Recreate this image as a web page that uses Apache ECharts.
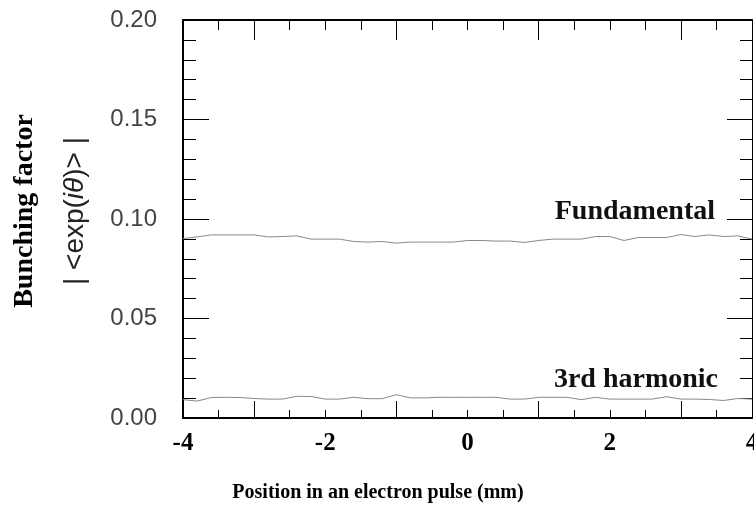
<!DOCTYPE html>
<html>
<head>
<meta charset="utf-8">
<script src="https://cdn.jsdelivr.net/npm/echarts@6/dist/echarts.min.js"></script>
<style>html,body{margin:0;padding:0;background:#fff}#c{width:754px;height:510px}</style>
</head>
<body>
<div id="c"></div>
<script>
// ---- data ----
const positions = [-4.0,-3.8,-3.6,-3.4,-3.2,-3.0,-2.8,-2.6,-2.4,-2.2,-2.0,-1.8,-1.6,-1.4,-1.2,-1.0,-0.8,-0.6,-0.4,-0.2,0.0,0.2,0.4,0.6,0.8,1.0,1.2,1.4,1.6,1.8,2.0,2.2,2.4,2.6,2.8,3.0,3.2,3.4,3.6,3.8,4.0];
const fundamental = [0.0902,0.0910,0.0920,0.0920,0.0920,0.0920,0.0910,0.0912,0.0915,0.0899,0.0899,0.0899,0.0887,0.0884,0.0887,0.0879,0.0884,0.0884,0.0884,0.0884,0.0892,0.0892,0.0889,0.0889,0.0882,0.0892,0.0899,0.0899,0.0899,0.0912,0.0912,0.0892,0.0907,0.0907,0.0907,0.0922,0.0912,0.0920,0.0912,0.0915,0.0899];
const harmonic3 = [0.0092,0.0085,0.0103,0.0104,0.0103,0.0098,0.0095,0.0095,0.0109,0.0108,0.0095,0.0095,0.0104,0.0097,0.0097,0.0117,0.0101,0.0101,0.0104,0.0104,0.0104,0.0104,0.0104,0.0095,0.0095,0.0104,0.0104,0.0104,0.0092,0.0104,0.0095,0.0095,0.0095,0.0095,0.0107,0.0095,0.0095,0.0093,0.0088,0.0098,0.0095];
const seriesNames = ['Fundamental', '3rd harmonic'];
const xTickLabels = [-4, -2, 0, 2, 4];
const xMinorTicks = [-3.5,-2.5,-2,-1.5,-0.5,0,0.5,1.5,2,2.5,3.5];
const xMajorTicks = [-3, -1, 1, 3];
const xTitle = 'Position in an electron pulse (mm)';
const yTitle1 = 'Bunching factor';

// ---- chart ----
const serif = '"Liberation Serif", "Times New Roman", serif';
const sans = '"Liberation Sans", Arial, sans-serif';
const chart = echarts.init(document.getElementById('c'), null, {renderer: 'canvas'});
const zip = (xs, ys) => xs.map((x, i) => [x, ys[i]]);
const xBase = {type: 'value', min: -4, max: 4, gridIndex: 0, splitLine: {show: false}};
const opt = {
  animation: false,
  backgroundColor: '#fff',
  grid: {left: 183, top: 20, right: 2, bottom: 92, containLabel: false, outerBoundsMode: 'none'},
  xAxis: [
    Object.assign({}, xBase, {
      position: 'bottom', interval: 0.5,
      axisLine: {show: true, onZero: false, lineStyle: {color: '#000', width: 2}},
      axisTick: {show: true, inside: true, length: 8, customValues: xMinorTicks, lineStyle: {color: '#000', width: 1}},
      axisLabel: {show: true, customValues: xTickLabels, margin: 13, color: '#000', fontFamily: serif, fontWeight: 'bold', fontSize: 25, formatter: v => String(v)},
      name: xTitle, nameLocation: 'middle', nameGap: 65,
      nameTextStyle: {fontFamily: serif, fontWeight: 'bold', fontSize: 20, color: '#000', padding: [0, 179, 0, 0]}
    }),
    Object.assign({}, xBase, {
      position: 'bottom', interval: 1,
      axisLine: {show: false, onZero: false},
      axisTick: {show: true, inside: true, length: 17, customValues: xMajorTicks, lineStyle: {color: '#000', width: 1}},
      axisLabel: {show: false}
    }),
    Object.assign({}, xBase, {
      position: 'top', interval: 0.5,
      axisLine: {show: true, onZero: false, lineStyle: {color: '#000', width: 2}},
      axisTick: {show: true, inside: true, length: 10, customValues: xMinorTicks, lineStyle: {color: '#000', width: 1}},
      axisLabel: {show: false}
    }),
    Object.assign({}, xBase, {
      position: 'top', interval: 1,
      axisLine: {show: false, onZero: false},
      axisTick: {show: true, inside: true, length: 20, customValues: xMajorTicks, lineStyle: {color: '#000', width: 1}},
      axisLabel: {show: false}
    })
  ],
  yAxis: [
    {
      type: 'value', min: 0, max: 0.2, interval: 0.05, position: 'left',
      splitLine: {show: false},
      axisLine: {show: true, onZero: false, lineStyle: {color: '#000', width: 2}},
      axisTick: {show: true, inside: true, length: 26, lineStyle: {color: '#000', width: 1}},
      minorTick: {show: true, splitNumber: 5, length: 13, lineStyle: {color: '#000', width: 1}},
      axisLabel: {show: true, margin: 26, color: '#444', fontFamily: sans, fontSize: 24, formatter: v => v.toFixed(2)},
      name: '{a|' + yTitle1 + '}\n{b|| <exp(}{c|iθ}{b|)> |}',
      nameLocation: 'middle', nameRotate: 90, nameGap: 83,
      nameTextStyle: {
        padding: [0, 0, 0, 16],
        rich: {
          a: {fontFamily: serif, fontWeight: 'bold', fontSize: 28, color: '#000', lineHeight: 50},
          b: {fontFamily: sans, fontSize: 28, color: '#222', lineHeight: 50},
          c: {fontFamily: sans, fontStyle: 'italic', fontSize: 28, color: '#222', lineHeight: 50}
        }
      }
    },
    {
      type: 'value', min: 0, max: 0.2, interval: 0.05, position: 'right',
      splitLine: {show: false},
      axisLine: {show: true, onZero: false, lineStyle: {color: '#000', width: 1}},
      axisTick: {show: true, inside: true, length: 25, lineStyle: {color: '#000', width: 1}},
      minorTick: {show: true, splitNumber: 5, length: 12, lineStyle: {color: '#000', width: 1}},
      axisLabel: {show: false}
    }
  ],
  series: [
    {
      name: seriesNames[0], type: 'line', xAxisIndex: 0, yAxisIndex: 0,
      data: zip(positions, fundamental), showSymbol: false, symbol: 'none',
      lineStyle: {color: '#888', width: 1},
      endLabel: {show: true, formatter: '{a}', distance: 0, align: 'right', verticalAlign: 'middle', offset: [-37, -27],
        fontFamily: serif, fontWeight: 'bold', fontSize: 28, color: '#111'}
    },
    {
      name: seriesNames[1], type: 'line', xAxisIndex: 0, yAxisIndex: 0,
      data: zip(positions, harmonic3), showSymbol: false, symbol: 'none',
      lineStyle: {color: '#888', width: 1},
      endLabel: {show: true, formatter: '{a}', distance: 0, align: 'right', verticalAlign: 'middle', offset: [-34, -19],
        fontFamily: serif, fontWeight: 'bold', fontSize: 28, color: '#111'}
    }
  ]
};
chart.setOption(opt);
</script>
</body>
</html>
